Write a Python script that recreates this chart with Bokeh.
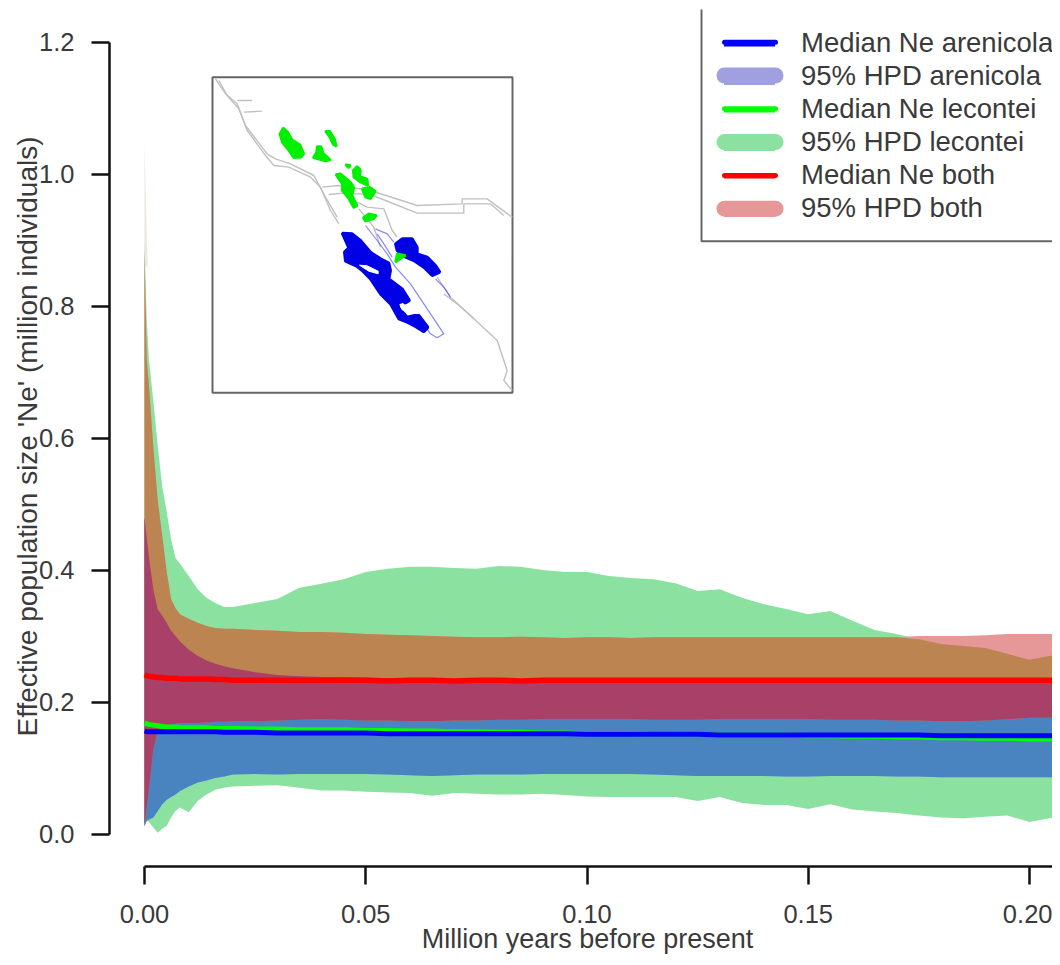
from bokeh.plotting import figure
from bokeh.models import Range1d, FixedTicker, NumeralTickFormatter, Legend, LegendItem, Label
from bokeh.embed import file_html
from bokeh.resources import INLINE
import numpy as np
import math

# ---------- data (million years before present / million individuals) ----------
time_my = [0, .0005, .001, .002, .003, .004, .005, .006, .007, .008, .01, .012, .014, .016, .018, .02,
           .025, .03, .035, .04, .045, .05, .055, .06, .065, .07, .075, .08, .085, .09, .095, .10,
           .105, .11, .115, .12, .125, .13, .135, .14, .145, .15, .155, .16, .165, .17, .175, .18,
           .185, .19, .195, .20, .207]

lecontei_upper = [.90, .78, .72, .656, .588, .527, .489, .447, .418, .41, .391, .371, .358, .35, .344, .344,
                  .35, .356, .373, .379, .386, .397, .402, .405, .405, .403, .402, .406, .405, .40, .397, .397,
                  .391, .388, .386, .38, .368, .371, .358, .348, .341, .333, .338, .323, .309, .303, .295, .288,
                  .285, .282, .273, .264, .273]
lecontei_lower = [.012, .02, .018, .01, .002, .008, .012, .025, .035, .04, .033, .05, .06, .067, .07, .072,
                  .073, .074, .07, .066, .066, .064, .063, .062, .058, .062, .061, .06, .06, .061, .059, .057,
                  .056, .056, .056, .056, .05, .056, .047, .044, .044, .038, .045, .037, .034, .032, .028, .025,
                  .024, .026, .028, .018, .027]
both_upper = [.88, .72, .68, .585, .505, .452, .398, .356, .342, .333, .326, .32, .315, .312, .311, .311,
              .309, .308, .306, .306, .305, .303, .302, .301, .30, .299, .298, .298, .299, .298, .297, .298,
              .298, .297, .298, .298, .298, .298, .298, .298, .298, .298, .298, .298, .298, .298, .30, .30,
              .30, .301, .303, .303, .303]
both_lower = [.01, .04, .068, .129, .156, .164, .165, .166, .167, .168, .168, .168, .169, .17, .17, .171,
              .171, .172, .173, .174, .173, .172, .172, .171, .171, .172, .172, .173, .173, .174, .174, .174,
              .174, .174, .173, .173, .173, .174, .174, .174, .174, .174, .173, .173, .173, .172, .172, .171,
              .171, .172, .174, .176, .176]
arenicola_upper = [.48, .45, .42, .37, .34, .331, .32, .308, .30, .292, .279, .27, .263, .258, .254, .251,
                   .245, .241, .239, .238, .238, .237, .236, .236, .236, .235, .235, .235, .235, .235, .235, .235,
                   .235, .235, .235, .235, .235, .235, .235, .235, .235, .235, .235, .235, .235, .235, .235, .235,
                   .235, .235, .235, .235, .235]
arenicola_lower = [.012, .02, .022, .025, .035, .045, .052, .056, .06, .065, .072, .078, .081, .085, .087, .09,
                   .091, .09, .091, .091, .091, .091, .09, .089, .088, .089, .09, .09, .09, .091, .091, .091,
                   .091, .091, .09, .089, .088, .088, .088, .088, .087, .087, .088, .088, .088, .087, .087, .086,
                   .086, .086, .086, .086, .086]
median_both = [.241, .240, .239, .238, .237, .237, .236, .236, .236, .235, .235, .235, .235, .234, .234, .233,
               .233, .233, .233, .233, .233, .233, .232, .233, .233, .232, .233, .233, .232, .233, .233, .233,
               .233, .233, .233, .233, .233, .233, .233, .233, .233, .233, .233, .233, .233, .233, .233, .233,
               .233, .233, .233, .233, .233]
median_lecontei = [.168, .167, .166, .165, .164, .163, .162, .162, .162, .161, .161, .161, .161, .16, .16, .16,
                   .159, .159, .158, .158, .158, .157, .157, .156, .156, .155, .155, .154, .154, .153, .153, .152,
                   .152, .152, .151, .151, .151, .15, .15, .15, .15, .149, .149, .148, .148, .147, .147, .146,
                   .146, .145, .145, .144, .144]
median_arenicola = [.156, .155, .155, .155, .155, .155, .155, .155, .155, .155, .155, .155, .155, .155, .154, .154,
                    .154, .153, .153, .153, .153, .153, .152, .152, .152, .152, .152, .152, .152, .152, .152, .151,
                    .151, .151, .151, .151, .151, .15, .15, .15, .15, .15, .15, .15, .15, .15, .15, .149,
                    .149, .149, .149, .149, .149]

# faint tip of the HPD spike above the solid part
spike_time = [0, .0007]
spike_base = [.86, .86]
spike_top = [1.05, .86]

x_ticks = [0.0, 0.05, 0.10, 0.15, 0.20]
y_ticks = [0.0, 0.2, 0.4, 0.6, 0.8, 1.0, 1.2]

# inset map outlines
map_green = [
    [(208,190),(218,172),(232,185),(245,208),(268,222),(280,250),(272,260),(250,262),(235,240),(215,215)],
    [(308,262),(318,245),(320,228),(332,228),(338,248),(360,268),(345,272),(320,265)],
    [(345,182),(358,182),(372,205),(378,228),(368,222),(358,200)],
    [(428,300),(440,288),(450,298),(448,318),(470,325),(472,345),(450,335),(430,320)],
    [(376,312),(390,310),(420,335),(430,350),(425,375),(440,405),(430,412),(415,385),(395,360),(395,340)],
    [(455,355),(478,350),(495,362),(480,385),(465,380)],
    [(458,442),(475,430),(498,435),(490,445),(465,452)],
    [(405,282),(420,285),(415,292)],
    [(560,550),(585,555),(570,565),(555,575)],
]
map_blue = [
    [(395,488),(425,490),(450,510),(480,545),(510,565),(535,578),(540,600),(535,625),(575,655),(597,690),(585,697),
     (565,697),(565,712),(590,740),(612,735),(625,735),(652,770),(640,784),(615,768),(590,755),(565,745),(540,700),
     (510,670),(480,625),(455,600),(440,588),(405,572),(402,545),(415,532),(405,510)],
    [(555,520),(575,505),(605,505),(620,530),(620,550),(650,560),(675,585),(688,605),(665,615),(640,590),(610,570),
     (575,555),(560,540)],
]
map_holes = [
    [(447,584),(470,586),(503,602),(503,610),(475,602)],
    [(568,702),(578,699),(583,720),(575,718)],
]
map_blue_lines = [
    [(465,465),(500,510),(530,550),(555,590),(600,640),(640,700),(700,790),(680,802),(660,790),(640,760)],
    [(495,475),(530,490),(550,515)],
    [(500,490),(520,520),(545,560)],
    [(675,625),(700,650),(720,680)],
]
map_gray_lines = [
    [(15,25),(45,70),(80,100),(105,165),(170,250),(195,265),(240,280),(310,315),(345,380),(380,440)],
    [(25,30),(50,75),(85,115),(110,180),(165,255),(190,285),(235,290),(300,320),(330,350),(360,420),(385,460)],
    [(80,90),(125,90)],
    [(100,125),(155,122)],
    [(335,350),(385,345),(480,360),(620,405),(755,400),(755,385),(830,385),(905,440)],
    [(355,372),(400,368),(480,372),(620,428),(760,428),(760,400),(840,400),(880,435)],
    [(440,395),(470,410),(520,415),(545,480),(560,500)],
    [(445,415),(490,470),(510,530)],
    [(680,620),(720,680),(780,735),(860,810),(890,900),(880,930),(905,960)],
    [(700,670),(740,700),(790,745)],
]

legend_labels = ["Median Ne arenicola", "95% HPD arenicola", "Median Ne lecontei",
                 "95% HPD lecontei", "Median Ne both", "95% HPD both"]

# ---------- styles ----------
FONT = "Liberation Sans"
TXT = "#3a3a3a"
C_GREEN, C_RED, C_BLUE = "#8be2a0", "#e69898", "#a0a0e0"
C_BROWN, C_STEEL, C_MAG = "#bc8450", "#4a84c0", "#a84068"
C_SPIKE = "#efe6e2"

# pixel geometry: the frame fills the figure; the axes sit at fixed places inside it
W, H = 1052, 957
F_L, F_R, F_T, F_B = 0, W, 0, H
AXIS_X_PX, AXIS_Y_PX = 109, 866
X0_PX, X_SCALE = 144.0, 4425.0
Y0_PX, Y_SCALE = 833.5, 660.0

p = figure(width=W, height=H, output_backend="svg", toolbar_location=None,
           x_range=Range1d((F_L - X0_PX) / X_SCALE, (F_R - X0_PX) / X_SCALE),
           y_range=Range1d((Y0_PX - F_B) / Y_SCALE, (Y0_PX - F_T) / Y_SCALE),
           min_border_left=0, min_border_right=0, min_border_top=0, min_border_bottom=0,
           background_fill_color="white", border_fill_color="white", outline_line_color=None)
p.grid.visible = False
p.extra_x_ranges["map_x"] = Range1d((F_L - 210) * 3, (F_R - 210) * 3)
p.extra_y_ranges["map_y"] = Range1d((F_B - 70) * 3, (F_T - 70) * 3)
p.extra_x_ranges["px_x"] = Range1d(F_L, F_R)
p.extra_y_ranges["px_y"] = Range1d(F_B, F_T)

t = np.array(time_my)
gu, gl = np.array(lecontei_upper), np.array(lecontei_lower)
ru, rl = np.array(both_upper), np.array(both_lower)
bu, bl = np.array(arenicola_upper), np.array(arenicola_lower)


def band(lo, hi, color):
    p.varea(x=t, y1=lo, y2=np.where(hi >= lo, hi, lo), fill_color=color)


p.varea(x=spike_time, y1=spike_base, y2=spike_top, fill_color=C_SPIKE)
band(gl, gu, C_GREEN)
band(rl, ru, C_RED)
band(bl, bu, C_BLUE)
band(np.maximum(bl, gl), np.minimum(bu, gu), C_STEEL)
band(np.maximum(rl, gl), np.minimum(ru, gu), C_BROWN)
band(np.maximum(rl, np.maximum(bl, gl)), np.minimum(ru, np.minimum(bu, gu)), C_MAG)

p.line(t, median_both, line_color="#ff0000", line_width=5.5)
p.line(t, median_lecontei, line_color="#00ff00", line_width=5)
p.line(t, median_arenicola, line_color="#0000ff", line_width=5)

# inset map
MAP = dict(x_range_name="map_x", y_range_name="map_y")
p.quad(left=[6], right=[906], top=[20], bottom=[967], fill_color="white",
       line_color="#666666", line_width=2, **MAP)
for ln in map_gray_lines:
    p.line([a for a, _ in ln], [b for _, b in ln], line_color="#c0c0c0", line_width=1.4, **MAP)
for ln in map_blue_lines:
    p.line([a for a, _ in ln], [b for _, b in ln], line_color="#3a3af0", line_width=1.2, line_alpha=.6, **MAP)
for poly in map_blue:
    p.patch([a for a, _ in poly], [b for _, b in poly], fill_color="#0000e6", line_color="#0000e6", line_width=3, **MAP)
for poly in map_holes:
    p.patch([a for a, _ in poly], [b for _, b in poly], fill_color="white", line_color="white", line_width=1, **MAP)
for poly in map_green:
    p.patch([a for a, _ in poly], [b for _, b in poly], fill_color="#00f000", line_color="#00f000", line_width=2.5, **MAP)

# legend box (open at the top and right, as cut by the frame of the picture)
PX = dict(x_range_name="px_x", y_range_name="px_y")
p.quad(left=[701], right=[1100], top=[9], bottom=[240.7], fill_color="white", line_color=None, **PX)
p.line([701, 701, 1100], [9, 240.7, 240.7], line_color="#666666", line_width=2, **PX)

KEY_L, KEY_R = 724, 775
row_y = [41.7 + 33.3 * i for i in range(6)]
key_style = [("#0000ff", 5), (C_BLUE, 16), ("#00ff00", 5), (C_GREEN, 16), ("#ff0000", 5), (C_RED, 16)]
renderers = [p.line([KEY_L, KEY_R], [y, y], line_color=c, line_width=w, line_cap="round", **PX)
             for y, (c, w) in zip(row_y, key_style)]
leg = Legend(items=[LegendItem(label=lab, renderers=[r]) for lab, r in zip(legend_labels, renderers)],
             location=(KEY_L - F_L, F_B - (row_y[-1] + 16.65)), orientation="vertical",
             padding=0, margin=0, spacing=0, glyph_width=KEY_R - KEY_L, glyph_height=33,
             label_height=33, label_standoff=26, label_width=240,
             background_fill_alpha=0, border_line_color=None,
             label_text_font=FONT, label_text_font_size="27.5px", label_text_color=TXT)
p.add_layout(leg)

# axes
ax = p.xaxis[0]
ay = p.yaxis[0]
ax.fixed_location = (Y0_PX - AXIS_Y_PX) / Y_SCALE
ay.fixed_location = (AXIS_X_PX - X0_PX) / X_SCALE
ax.ticker = FixedTicker(ticks=x_ticks)
ay.ticker = FixedTicker(ticks=y_ticks)
ax.formatter = NumeralTickFormatter(format="0.00")
ay.formatter = NumeralTickFormatter(format="0.0")
ax.bounds = (0, 0.2075)
ay.bounds = (0, 1.2)
for a in (ax, ay):
    a.axis_line_color = "#111111"
    a.axis_line_width = 2.5
    a.major_tick_line_color = "#111111"
    a.major_tick_line_width = 2.5
    a.major_tick_out = 18
    a.major_tick_in = 0
    a.minor_tick_line_color = None
    a.major_label_text_font = FONT
    a.major_label_text_font_size = "25.5px"
    a.major_label_text_color = TXT
ay.major_label_orientation = "horizontal"
ax.major_label_standoff = 20
ay.major_label_standoff = 17

# axis titles, placed on the picture as in the reference
p.add_layout(Label(x=587, y=H - 938, x_units="screen", y_units="screen",
                   text="Million years before present", text_align="center", text_baseline="middle",
                   text_font=FONT, text_font_size="27px", text_color=TXT))
p.add_layout(Label(x=27, y=H - 436, x_units="screen", y_units="screen", angle=math.pi / 2,
                   text="Effective population size 'Ne' (million individuals)",
                   text_align="center", text_baseline="middle",
                   text_font=FONT, text_font_size="28px", text_color=TXT))

open("out.html", "w").write(file_html(p, INLINE))
